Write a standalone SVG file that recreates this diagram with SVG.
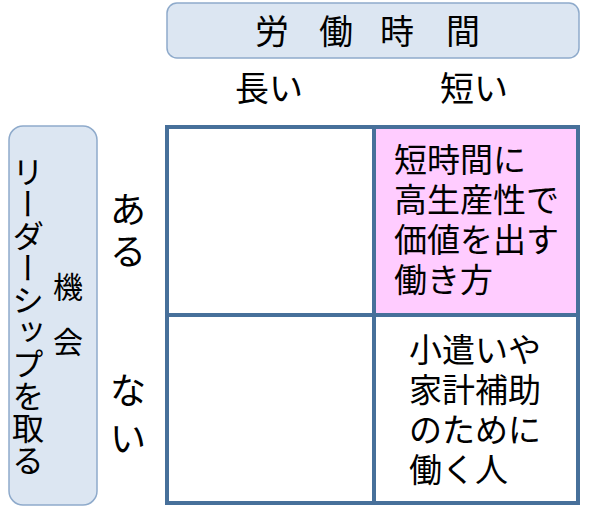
<svg xmlns="http://www.w3.org/2000/svg" width="600" height="514" viewBox="0 0 600 514">
<style>
.t{font-family:"Noto Sans CJK JP","Noto Sans CJK SC",sans-serif;fill:#000}
.hdr{fill:#dce6f2;stroke:#8eaacb;stroke-width:1.5}
.grid{fill:none;stroke:#47709a;stroke-width:4}
</style>
<rect width="600" height="514" fill="#fff"/>
<g id="header-time">
<rect class="hdr" x="167" y="3" width="412" height="55" rx="10"/>
<text class="t" font-size="34" text-anchor="middle" x="272 304 336 367 397 430 463" y="44">労 働 時 間</text>
</g>
<g id="label-long"><text class="t" font-size="34" text-anchor="middle" x="269" y="101">長い</text></g>
<g id="label-short"><text class="t" font-size="34" text-anchor="middle" x="474" y="101">短い</text></g>
<g id="header-leadership">
<rect class="hdr" x="9" y="126" width="88" height="379" rx="14"/>
<text class="t" font-size="32" writing-mode="vertical-rl" x="28" y="156">リーダーシップを取る</text>
<text class="t" font-size="30" text-anchor="middle" x="68 68 68" y="298 325 353">機 会</text>
</g>
<g id="label-yes"><text class="t" font-size="36" text-anchor="middle" x="128 128" y="223 265">ある</text></g>
<g id="label-no"><text class="t" font-size="36" text-anchor="middle" x="128 128" y="404 452">ない</text></g>
<g id="cell-tl"><rect x="167" y="127" width="207" height="188" fill="#fff"/></g>
<g id="cell-tr">
<rect x="374" y="127" width="204" height="188" fill="#ffccff"/>
<text class="t" font-size="33" x="394"><tspan x="394" y="172">短時間に</tspan><tspan x="394" y="212">高生産性で</tspan><tspan x="394" y="252">価値を出す</tspan><tspan x="394" y="292">働き方</tspan></text>
</g>
<g id="cell-bl"><rect x="167" y="315" width="207" height="188" fill="#fff"/></g>
<g id="cell-br">
<rect x="374" y="315" width="204" height="188" fill="#fff"/>
<text class="t" font-size="33" x="409"><tspan x="409" y="362">小遣いや</tspan><tspan x="409" y="402">家計補助</tspan><tspan x="409" y="442">のために</tspan><tspan x="409" y="482">働く人</tspan></text>
</g>
<g id="connectors">
<rect class="grid" x="167" y="127" width="411" height="376"/>
<line class="grid" x1="374" y1="127" x2="374" y2="503"/>
<line class="grid" x1="167" y1="315" x2="578" y2="315"/>
</g>
</svg>
